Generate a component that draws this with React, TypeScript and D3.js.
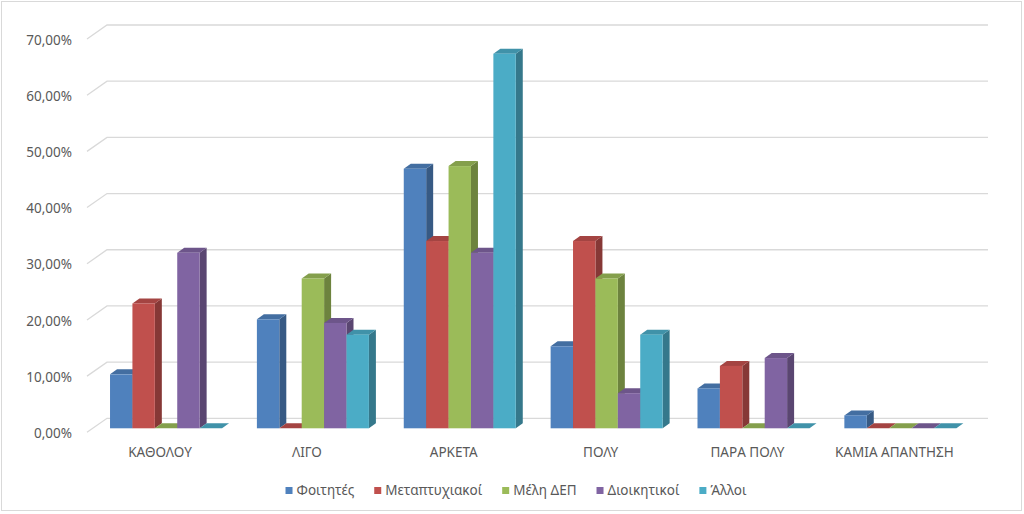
import React, { useRef, useEffect } from "react";
import * as d3 from "d3";

const categories = ["ΚΑΘΟΛΟΥ", "ΛΙΓΟ", "ΑΡΚΕΤΑ", "ΠΟΛΥ", "ΠΑΡΑ ΠΟΛΥ", "ΚΑΜΙΑ ΑΠΑΝΤΗΣΗ"];
const seriesNames = ["Φοιτητές", "Μεταπτυχιακοί", "Μέλη ΔΕΠ", "Διοικητικοί", "Άλλοι"];
const foititesValues = [9.6, 19.4, 46.2, 14.6, 7.1, 2.3];
const metaptyxiakoiValues = [22.22, 0, 33.33, 33.33, 11.11, 0];
const melhDepValues = [0, 26.67, 46.67, 26.67, 0, 0];
const dioikitikoiValues = [31.25, 18.75, 31.25, 6.25, 12.5, 0];
const alloiValues = [0, 16.67, 66.67, 16.67, 0, 0];
const yTicks = [0, 10, 20, 30, 40, 50, 60, 70];
const colors = ["#4F81BD", "#C0504D", "#9BBB59", "#8064A2", "#4BACC6"];

const W = 1024;
const H = 514;
const FONT = "'Noto Sans', sans-serif";

const App = () => {
  const svgRef = useRef(null);

  useEffect(() => {
    const svg = d3.select(svgRef.current);
    svg.selectAll("*").remove();

    const allSeries = [foititesValues, metaptyxiakoiValues, melhDepValues, dioikitikoiValues, alloiValues];

    // 3D offsets: side wall diagonal and bar depth
    const wallDx = 20;
    const wallDy = 14;
    const depthX = 7;
    const depthY = -5;

    // bar front face scale
    const y = d3.scaleLinear().domain([0, 70]).range([428.3, 35]);
    const backY = (v) => y(v) - 10;

    const x = d3.scaleBand().domain(categories).range([92.6, 973.8]).padding(0);
    const xInner = d3
      .scaleBand()
      .domain(seriesNames)
      .range([0, x.bandwidth()])
      .paddingInner(0)
      .paddingOuter(0.778);

    const locale = d3.formatLocale({ decimal: ",", thousands: ".", grouping: [3], currency: ["", "€"] });
    const fmt = (v) => locale.format(".2f")(v) + "%";

    // border
    svg
      .append("rect")
      .attr("x", 1.5)
      .attr("y", 1.5)
      .attr("width", 1020)
      .attr("height", 509)
      .attr("fill", "#fff")
      .attr("stroke", "#d9d9d9");

    // gridlines (back wall + side wall diagonal)
    const wallLeft = 107;
    const wallRight = 988;
    const grid = svg.append("g");
    yTicks.forEach((t) => {
      const by = backY(t);
      grid
        .append("path")
        .attr("d", `M${wallLeft - wallDx},${by + wallDy}L${wallLeft},${by}L${wallRight},${by}`)
        .attr("fill", "none")
        .attr("stroke", "#d9d9d9")
        .attr("stroke-width", 1.3);
      grid
        .append("text")
        .attr("x", 72)
        .attr("y", by + wallDy + 1)
        .attr("dy", "0.35em")
        .attr("text-anchor", "end")
        .attr("font-family", FONT)
        .attr("font-size", 13.5)
        .attr("fill", "#595959")
        .text(fmt(t));
    });

    // bars
    const bars = svg.append("g");
    categories.forEach((cat, ci) => {
      seriesNames.forEach((s, si) => {
        const v = allSeries[si][ci];
        const x0 = x(cat) + xInner(s);
        const x1 = x0 + xInner.bandwidth();
        const y0 = y(0);
        const y1 = y(v);
        const base = d3.color(colors[si]);
        // side face
        bars
          .append("path")
          .attr("d", `M${x1},${y0}L${x1 + depthX},${y0 + depthY}L${x1 + depthX},${y1 + depthY}L${x1},${y1}Z`)
          .attr("fill", base.darker(1.0).formatHex());
        // top face
        bars
          .append("path")
          .attr("d", `M${x0},${y1}L${x0 + depthX},${y1 + depthY}L${x1 + depthX},${y1 + depthY}L${x1},${y1}Z`)
          .attr("fill", base.darker(0.45).formatHex());
        // front face
        if (v > 0) {
          bars
            .append("rect")
            .attr("x", x0)
            .attr("y", y1)
            .attr("width", x1 - x0)
            .attr("height", y0 - y1)
            .attr("fill", colors[si]);
        }
      });
    });

    // category labels
    svg
      .append("g")
      .selectAll("text")
      .data(categories)
      .enter()
      .append("text")
      .attr("x", (d) => x(d) + x.bandwidth() / 2 - 6)
      .attr("y", 456.5)
      .attr("text-anchor", "middle")
      .attr("font-family", FONT)
      .attr("font-size", 13.5)
      .attr("fill", "#595959")
      .text((d) => d);

    // legend
    const legend = svg.append("g");
    let cx = 0;
    seriesNames.forEach((s, i) => {
      const item = legend.append("g").attr("transform", `translate(${cx},0)`);
      item.append("rect").attr("x", 0).attr("y", -3).attr("width", 7).attr("height", 7).attr("fill", colors[i]);
      const t = item
        .append("text")
        .attr("x", 11)
        .attr("y", 0)
        .attr("dy", "0.35em")
        .attr("font-family", FONT)
        .attr("font-size", 13.5)
        .attr("fill", "#595959")
        .text(s);
      const tw = t.node().getComputedTextLength();
      cx += 11 + tw + 20;
    });
    const legendW = cx - 20;
    legend.attr("transform", `translate(${516 - legendW / 2},490)`);
  }, []);

  return (
    <svg
      ref={svgRef}
      width={W}
      height={H}
      style={{ position: "absolute", left: 0, top: 0, display: "block" }}
    />
  );
};

export default App;
